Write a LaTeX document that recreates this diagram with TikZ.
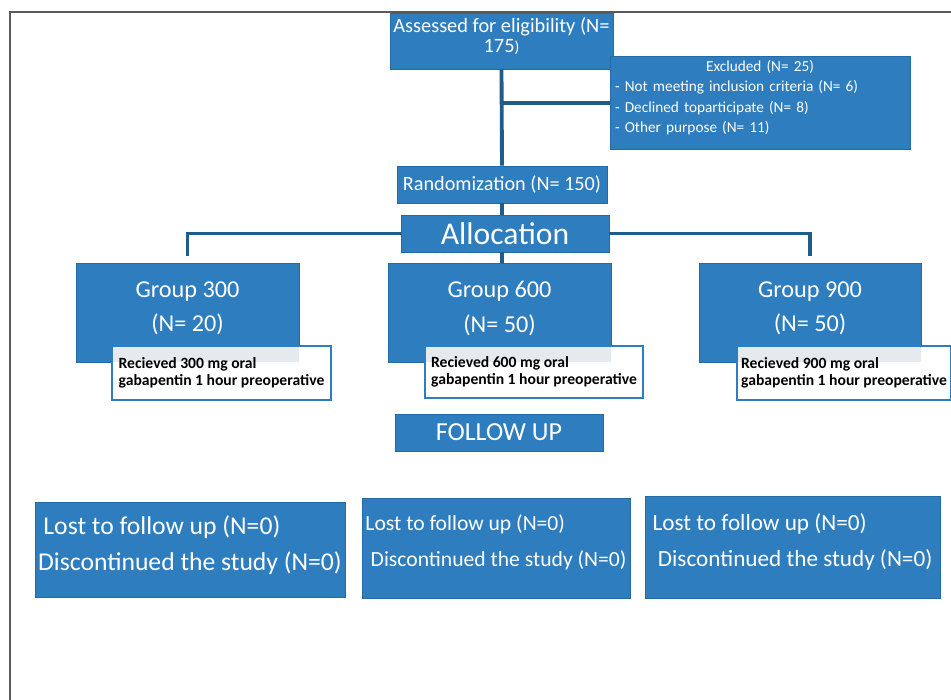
\documentclass[tikz,border=0pt]{standalone}
\usepackage{fontspec}
\setmainfont{Carlito}
\usepackage{tikz}
\usetikzlibrary{arrows.meta,positioning,calc}
\definecolor{boxblue}{HTML}{2E7DBF}
\definecolor{lineblue}{HTML}{1E5C8A}
\definecolor{framegray}{HTML}{5A5A5A}
\definecolor{stripgray}{HTML}{E4EAEE}

\begin{document}
\begin{tikzpicture}[x=0.02cm, y=-0.02cm,
  bluebox/.style={draw=boxblue!85!black, line width=0.4pt, fill=boxblue, text=white, inner sep=2pt},
  recbox/.style={draw=boxblue, line width=1.2pt, fill=white, text=black, align=left, inner xsep=2pt, inner ysep=2pt,
    font=\fontsize{8.9}{9.8}\selectfont\bfseries,
    path picture={\fill[stripgray] (path picture bounding box.north west) rectangle (#1.south east);}},
  grpbox/.style={bluebox, minimum width=4.46cm, minimum height=1.98cm, align=center,
    font=\fontsize{13.8}{19.8}\selectfont},
  lostbox/.style={bluebox, align=left, inner xsep=1pt, minimum height=1.9cm},
  link/.style={draw=lineblue, line width=2.2pt}]
  \useasboundingbox (0,0) rectangle (951,700);
  \draw[framegray, line width=1.2pt] (951,12) -- (10,12) -- (10,700);

  \node[bluebox, minimum width=4.46cm, minimum height=1.1cm, align=center, font=\fontsize{11.6}{11.5}\selectfont] (assess) at (501.5,41.5) {Assessed for eligibility (N=\\175{\small)}\\[-4pt]\mbox{}};
  \node[bluebox, minimum width=6cm, minimum height=1.84cm, text width=5.8cm, align=left, font=\fontsize{8.7}{11.6}\selectfont] (excl) at (760,103) {\makebox[\linewidth]{Excluded (N= 25)}\\- Not meeting inclusion criteria (N= 6)\\- Declined toparticipate (N= 8)\\- Other purpose (N= 11)\\[-4.2pt]\mbox{}};
  \node[bluebox, minimum width=4.2cm, minimum height=0.74cm, font=\fontsize{11.5}{13}\selectfont] (rand) at (502,184.5) {Randomization (N= 150)};
  \node[bluebox, minimum width=4.16cm, minimum height=0.74cm, font=\fontsize{18}{20}\selectfont] (alloc) at (505,233.5) {Allocation};

  \node[grpbox] (g300) at (187.5,312.5) {Group 300\\(N= 20)\\[-13pt]\mbox{}};
  \node[grpbox] (g600) at (499.5,312.5) {Group 600\\(N= 50)\\[-13pt]\mbox{}};
  \node[grpbox, minimum width=4.44cm] (g900) at (810,312.5) {Group 900\\(N= 50)\\[-13pt]\mbox{}};

  \node[recbox=g300, minimum width=4.38cm, minimum height=1.08cm] (r300) at (221.5,373) {Recieved 300 mg oral\\gabapentin 1 hour preoperative};
  \node[recbox=g600, minimum width=4.36cm, minimum height=1.04cm] (r600) at (534,372) {Recieved 600 mg oral\\gabapentin 1 hour preoperative};
  \node[recbox=g900, minimum width=4.28cm, minimum height=1.08cm] (r900) at (844,373) {Recieved 900 mg oral\\gabapentin 1 hour preoperative};

  \node[bluebox, minimum width=4.16cm, minimum height=0.74cm, font=\fontsize{14.8}{16}\selectfont] (follow) at (499,432.5) {FOLLOW UP};

  \node[lostbox, minimum width=6.2cm, font=\fontsize{14.6}{20.4}\selectfont] (lost1) at (190,549.5) {\hspace*{3pt}Lost to follow up (N=0)\\Discontinued the study (N=0)\\[-13pt]\mbox{}};
  \node[lostbox, minimum width=5.36cm, minimum height=2cm, font=\fontsize{12.3}{20.4}\selectfont] (lost2) at (496,548) {Lost to follow up (N=0)\\\hspace*{3pt}Discontinued the study (N=0)\\[-12pt]\mbox{}};
  \node[lostbox, minimum width=5.9cm, minimum height=2.04cm, font=\fontsize{13.2}{20.4}\selectfont] (lost3) at (792.5,547) {Lost to follow up (N=0)\\\hspace*{3pt}Discontinued the study (N=0)\hspace*{8pt}\\[-12pt]\mbox{}};

  \draw[link] (assess.south) -- (rand.north);
  \draw[link] (assess.south |- excl.west) -- (excl.west);
  \draw[link] (rand.south) -- (rand.south |- alloc.north);
  \draw[link, shorten >=4pt] (alloc.west) -| (g300.north);
  \draw[link, shorten >=4pt] (alloc.east) -| (g900.north);
  \draw[link] (rand.south |- alloc.south) -- (rand.south |- g600.north);
\end{tikzpicture}
\end{document}
